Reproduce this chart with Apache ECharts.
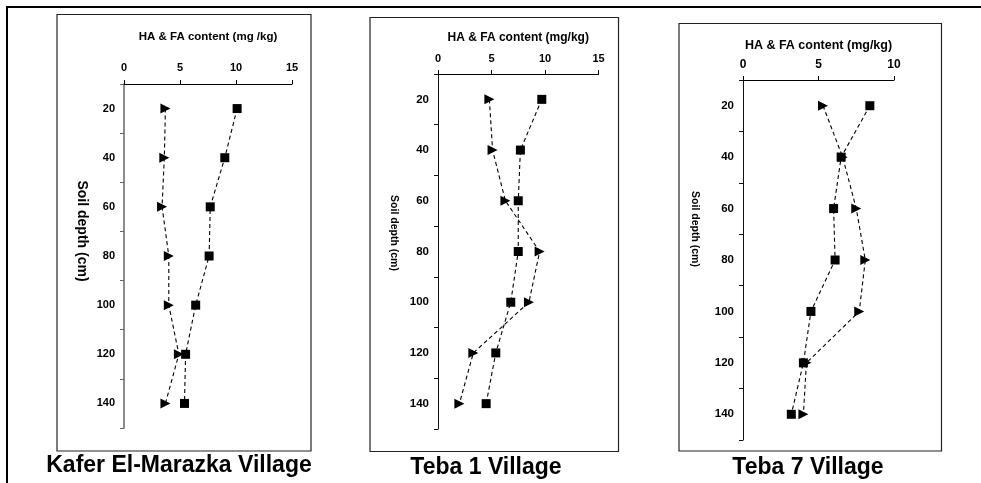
<!DOCTYPE html>
<html>
<head>
<meta charset="utf-8">
<script src="https://cdn.jsdelivr.net/npm/echarts@6/dist/echarts.min.js"></script>
<style>
html,body{margin:0;padding:0;background:#fff;}
#chart{width:981px;height:483px;}
</style>
</head>
<body>
<div id="chart"></div>
<script>
// ---- Data ----
const depths = [20, 40, 60, 80, 100, 120, 140];
const yTickLabels = [20, 40, 60, 80, 100, 120, 140];

const kaferSquare   = [10.1, 9.0, 7.7, 7.6, 6.4, 5.5, 5.4];
const kaferTriangle = [3.7, 3.6, 3.4, 4.0, 4.0, 4.9, 3.7];

const teba1Square   = [9.7, 7.7, 7.5, 7.5, 6.8, 5.4, 4.5];
const teba1Triangle = [4.8, 5.1, 6.3, 9.5, 8.5, 3.3, 2.0];

const teba7Square   = [8.4, 6.5, 6.0, 6.1, 4.5, 4.0, 3.2];
const teba7Triangle = [5.3, 6.6, 7.5, 8.1, 7.7, 4.2, 4.0];

const villageNames = ['Kafer El-Marazka Village', 'Teba 1 Village', 'Teba 7 Village'];
const xAxisNames = ['HA & FA content (mg /kg)', 'HA & FA content (mg/kg)', 'HA & FA content (mg/kg)'];
const xMax = [15, 15, 10];
const yAxisName = 'Soil depth (cm)';

// ---- Layout ----
const FONT = '"Liberation Sans", Arial, Helvetica, sans-serif';
const grids = [
  {left: 124, top: 84, width: 168, height: 344},
  {left: 438, top: 74, width: 160.5, height: 355},
  {left: 743, top: 80, width: 151, height: 360}
];
const xNameGap = [41, 30, 28];
const xNameSize = [11.5, 12, 12.5];
const xLabelSize = [11, 11, 12];
const yLabelSize = [11, 11.5, 11.5];
const xLabelMargin = [11, 10, 9];
const yAxisColor = ['#666', '#111', '#111'];
const panelBoxes = [
  {x: 57, y: 14.5, w: 254, h: 436.5},
  {x: 370, y: 17.5, w: 248.5, h: 434},
  {x: 679, y: 23.5, w: 262.5, h: 427.5}
];
const yNamePos = [
  {x: 82, y: 231, size: 14},
  {x: 393.5, y: 233, size: 10.5},
  {x: 695, y: 229, size: 10.5}
];
const villagePos = [
  {x: 179, y: 466},
  {x: 486, y: 468},
  {x: 808, y: 468}
];

const squareSets = [kaferSquare, teba1Square, teba7Square];
const triangleSets = [kaferTriangle, teba1Triangle, teba7Triangle];

const xAxes = [], yAxes = [], series = [], graphics = [];

grids.forEach((g, i) => {
  xAxes.push({
    type: 'value', gridIndex: i, position: 'top', min: 0, max: xMax[i], interval: 5,
    name: xAxisNames[i], nameLocation: 'middle', nameGap: xNameGap[i],
    nameTextStyle: {fontFamily: FONT, fontWeight: 'bold', fontSize: xNameSize[i], color: '#000'},
    axisLine: {show: true, lineStyle: {color: '#000', width: 1}},
    axisTick: {show: true, length: 4, lineStyle: {color: '#000'}},
    axisLabel: {fontFamily: FONT, fontWeight: 'bold', fontSize: xLabelSize[i], color: '#000', margin: xLabelMargin[i]},
    splitLine: {show: false}
  });
  // label axis
  yAxes.push({
    type: 'value', gridIndex: i, inverse: true, min: 10, max: 150, interval: 10,
    axisLine: {show: true, lineStyle: {color: yAxisColor[i], width: i === 0 ? 1.5 : 1}},
    axisTick: {show: false},
    axisLabel: {
      fontFamily: FONT, fontWeight: 'bold', fontSize: yLabelSize[i], color: '#000', margin: 9,
      formatter: v => (yTickLabels.indexOf(v) >= 0 ? String(v) : '')
    },
    splitLine: {show: false}
  });
  // tick axis
  yAxes.push({
    type: 'value', gridIndex: i, inverse: true, min: 10, max: 150, interval: 20,
    position: 'left',
    axisLine: {show: false},
    axisTick: {show: true, length: 4, lineStyle: {color: yAxisColor[i]}},
    axisLabel: {show: false},
    splitLine: {show: false}
  });

  const lineStyle = {color: '#000', width: 1.1, type: [4, 3]};
  series.push({
    name: 'HA', type: 'line', xAxisIndex: i, yAxisIndex: 2 * i,
    data: depths.map((d, k) => [squareSets[i][k], d]),
    symbol: 'rect', symbolSize: 9, itemStyle: {color: '#000'},
    lineStyle: lineStyle, silent: true, animation: false
  });
  series.push({
    name: 'FA', type: 'line', xAxisIndex: i, yAxisIndex: 2 * i,
    data: depths.map((d, k) => [triangleSets[i][k], d]),
    symbol: 'triangle', symbolSize: 10, symbolRotate: -90, itemStyle: {color: '#000'},
    lineStyle: lineStyle, silent: true, animation: false
  });

  const b = panelBoxes[i];
  graphics.push({
    type: 'rect', shape: {x: b.x, y: b.y, width: b.w, height: b.h},
    style: {fill: null, stroke: '#222', lineWidth: 1.2}, silent: true
  });
  const yn = yNamePos[i];
  graphics.push({
    type: 'text', x: yn.x, y: yn.y, rotation: -Math.PI / 2,
    style: {text: yAxisName, font: 'bold ' + yn.size + 'px ' + FONT, fill: '#000',
            textAlign: 'center', textVerticalAlign: 'middle'}, silent: true
  });
  const vp = villagePos[i];
  graphics.push({
    type: 'text', x: vp.x, y: vp.y,
    style: {text: villageNames[i], font: 'bold 23px ' + FONT, fill: '#000',
            textAlign: 'center', textVerticalAlign: 'middle'}, silent: true
  });
});

// outer frame (only left and top edges visible)
graphics.push({
  type: 'rect', shape: {x: 7, y: 7, width: 1100, height: 600},
  style: {fill: null, stroke: '#000', lineWidth: 2}, silent: true
});

const chart = echarts.init(document.getElementById('chart'), null, {renderer: 'canvas'});
chart.setOption({
  animation: false,
  backgroundColor: '#fff',
  grid: grids,
  xAxis: xAxes,
  yAxis: yAxes,
  series: series,
  graphic: graphics
});
</script>
</body>
</html>
